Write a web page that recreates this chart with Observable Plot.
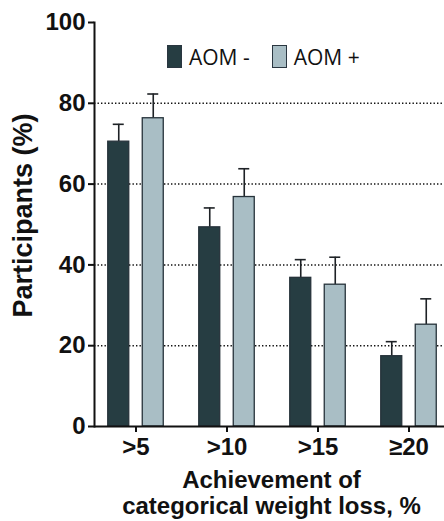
<!DOCTYPE html>
<html>
<head>
<meta charset="utf-8">
<script src="https://cdn.jsdelivr.net/npm/d3@7"></script>
<script src="https://cdn.jsdelivr.net/npm/@observablehq/plot@0.6"></script>
<style>
  html, body { margin: 0; padding: 0; background: #fff; }
  #wrap { position: relative; width: 444px; height: 521px; }
  #legend { position: absolute; left: 167px; top: 45px; font-family: "Open Sans", "Noto Sans", sans-serif; font-size: 21px; color: #111; display: flex; align-items: center; }
  .sw { display: inline-block; width: 13px; height: 21px; border: 1px solid #2a3640; margin-right: 7px; }
  .item { display: flex; align-items: center; margin-right: 22px; line-height: 22px; }
</style>
</head>
<body>
<div id="wrap">
  <div id="legend"></div>
</div>
<script>
const categories = [">5", ">10", ">15", "≥20"];
const seriesNames = ["AOM -", "AOM +"];
const aomMinus = [70.5, 49.3, 36.8, 17.4];
const aomMinusErr = [4.3, 4.8, 4.5, 3.6];
const aomPlus = [76.3, 56.8, 35.1, 25.2];
const aomPlusErr = [6.0, 7.0, 6.8, 6.4];
const yTicks = [0, 20, 40, 60, 80, 100];
const gridValues = [20, 40, 60, 80];
const colors = ["#263d42", "#a9bec5"];

const minusData = categories.map((c, i) => ({cat: c, v: aomMinus[i], e: aomMinusErr[i]}));
const plusData = categories.map((c, i) => ({cat: c, v: aomPlus[i], e: aomPlusErr[i]}));

const font = "'Liberation Sans', Arial, Helvetica, sans-serif";
const off = 17.25;

function seriesMarks(data, color, dx) {
  return [
    Plot.ruleX(data, {x: "cat", y1: "v", y2: d => d.v + d.e, dx, stroke: "#1e2226", strokeWidth: 1.6}),
    Plot.tickY(data, {x: "cat", y: d => d.v + d.e, dx, stroke: "#1e2226", strokeWidth: 1.6, insetLeft: 5, insetRight: 5}),
    Plot.barY(data, {x: "cat", y: "v", dx, fill: color, stroke: "#26323a", strokeWidth: 1.3})
  ];
}

const chart = Plot.plot({
  width: 444,
  height: 521,
  marginTop: 22,
  marginBottom: 95,
  marginLeft: 94,
  marginRight: 0,
  style: {fontFamily: font, background: "#fff", color: "#111"},
  x: {domain: categories, range: [124, 419], paddingInner: 0.77, paddingOuter: 0, label: null},
  y: {domain: [0, 100], label: null},
  marks: [
    Plot.ruleY(gridValues, {stroke: "#111", strokeWidth: 1.5, strokeDasharray: "1.4,2.1"}),
    ...seriesMarks(minusData, colors[0], -off),
    ...seriesMarks(plusData, colors[1], off),
    Plot.ruleY([0], {stroke: "#111", strokeWidth: 2}),
    Plot.frame({anchor: "left", stroke: "#111", strokeWidth: 2}),
    Plot.axisY({ticks: yTicks, tickSize: 6, tickPadding: 3, fontSize: 24, fontWeight: "bold", label: null, strokeWidth: 2, stroke: "#111"}),
    Plot.axisX({tickSize: 6, tickPadding: 5, fontSize: 24, fontWeight: "bold", label: null, strokeWidth: 2, stroke: "#111"}),
    Plot.text(["Participants (%)"], {frameAnchor: "left", textAnchor: "middle", rotate: -90, dx: -71, dy: -9, fontSize: 27, fontWeight: "bold", fill: "#111"}),
    Plot.text(["Achievement of\ncategorical weight loss, %"], {frameAnchor: "bottom", lineAnchor: "top", dy: 42, dx: 2, fontSize: 24, fontWeight: "bold", lineHeight: 1.12, fill: "#111"})
  ]
});

document.getElementById("wrap").prepend(chart);

const legend = document.getElementById("legend");
seriesNames.forEach((n, i) => {
  const it = document.createElement("div");
  it.className = "item";
  const sw = document.createElement("span");
  sw.className = "sw";
  sw.style.background = colors[i];
  it.appendChild(sw);
  it.appendChild(document.createTextNode(n));
  legend.appendChild(it);
});
</script>
</body>
</html>
